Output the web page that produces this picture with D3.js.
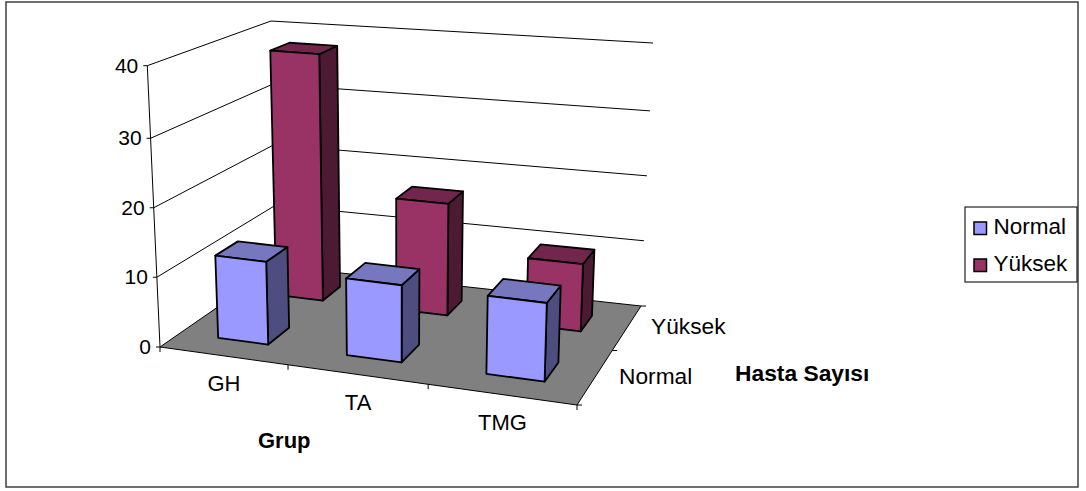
<!DOCTYPE html>
<html>
<head>
<meta charset="utf-8">
<style>
  html, body { margin: 0; padding: 0; background: #fff; }
  svg { display: block; }
  text { font-family: "Liberation Sans", Arial, sans-serif; fill: #000; }
</style>
<script src="https://cdn.jsdelivr.net/npm/d3@7"></script>
</head>
<body>
<svg id="chart" width="1086" height="491"></svg>
<script>
// Patient counts per group and level
const categories = ["GH", "TA", "TMG"];
const seriesNames = ["Normal", "Yüksek"];
const normalValues = [12, 11, 11];
const yuksekValues = [38, 17, 10];
const valueTicks = [0, 10, 20, 30, 40];
const categoryTitle = "Grup";
const seriesTitle = "Hasta Sayısı";

// Face colours per series: front, top, side
const seriesColors = [
  { front: "#9999FF", top: "#7777BF", side: "#4D4D80" },
  { front: "#993366", top: "#73264D", side: "#4D1A33" }
];

// Screen position of the eight corners of the plot box (floor, then ceiling)
const box = {
  floor: { fl: [160, 347], fr: [577, 405], br: [641, 306], bl: [277, 266] },
  top:   { fl: [147.3, 65.7], fr: [587, 109], br: [653, 43], bl: [271, 21] }
};

// Axis scales into the unit box; the piecewise ranges carry the foreshortening
const xScale = d3.scaleLinear().domain([0, 1, 2, 3]).range([0, 0.307, 0.643, 1]);
const depthScale = d3.scaleLinear().domain([0, 1, 2]).range([0, 0.55, 1]);
const valueScale = d3.scaleLinear().domain(valueTicks).range([0, 0.248, 0.495, 0.742, 1]);

const lerp = (a, b, t) => [a[0] + (b[0] - a[0]) * t, a[1] + (b[1] - a[1]) * t];
const plane = (q, u, d) => lerp(lerp(q.fl, q.fr, u), lerp(q.bl, q.br, u), d);
// Trilinear projection from data coordinates to the page
const project = (x, depth, value) =>
  lerp(plane(box.floor, xScale(x), depthScale(depth)),
       plane(box.top, xScale(x), depthScale(depth)),
       valueScale(value));

const svg = d3.select("#chart");
const polyPath = d3.line().curve(d3.curveLinearClosed);
const linePath = d3.line();

// Outer chart frame
svg.append("rect")
  .attr("x", 6).attr("y", 2).attr("width", 1072).attr("height", 485)
  .attr("fill", "#fff").attr("stroke", "#404040").attr("stroke-width", 1.5);

// Gridlines along the side and back walls
const grid = svg.append("g").attr("fill", "none").attr("stroke", "#000").attr("stroke-width", 1);
valueTicks.filter(v => v > 0).forEach(v => {
  grid.append("path").attr("d", linePath([project(0, 0, v), project(0, 2, v), project(3, 2, v)]));
});
grid.append("path").attr("d", linePath([project(0, 0, 0), project(0, 0, 40)]));

// Floor
svg.append("path")
  .attr("d", polyPath([project(0, 0, 0), project(3, 0, 0), project(3, 2, 0), project(0, 2, 0)]))
  .attr("fill", "#808080").attr("stroke", "#000").attr("stroke-width", 1);

// Tick marks on the three axes
const ticks = svg.append("g").attr("fill", "none").attr("stroke", "#000").attr("stroke-width", 1);
valueTicks.forEach(v => {
  const p = project(0, 0, v);
  ticks.append("path").attr("d", linePath([[p[0] - 4, p[1]], p]));
});
d3.range(0, 4).forEach(i => {
  const p = project(i, 0, 0);
  ticks.append("path").attr("d", linePath([p, [p[0], p[1] + 5]]));
});
d3.range(0, 3).forEach(j => {
  const p = project(3, j, 0);
  ticks.append("path").attr("d", linePath([p, [p[0] + 5, p[1]]]));
});

// Bars, back row first so the front row overlaps it
const rows = [
  { index: 1, values: yuksekValues },
  { index: 0, values: normalValues }
];
const barGroup = svg.append("g").attr("stroke", "#000").attr("stroke-width", 1.8).attr("stroke-linejoin", "round");
rows.forEach(row => {
  const color = seriesColors[row.index];
  row.values.forEach((value, i) => {
    const x0 = i + 0.3, x1 = i + 0.7;
    const d0 = row.index + 0.32, d1 = row.index + 0.68;
    barGroup.append("path").attr("fill", color.side).attr("d", polyPath([
      project(x1, d0, 0), project(x1, d1, 0), project(x1, d1, value), project(x1, d0, value)
    ]));
    barGroup.append("path").attr("fill", color.top).attr("d", polyPath([
      project(x0, d0, value), project(x1, d0, value), project(x1, d1, value), project(x0, d1, value)
    ]));
    barGroup.append("path").attr("fill", color.front).attr("d", polyPath([
      project(x0, d0, 0), project(x1, d0, 0), project(x1, d0, value), project(x0, d0, value)
    ]));
  });
});

// Axis labels
valueTicks.forEach(v => {
  const p = project(0, 0, v);
  svg.append("text").attr("x", p[0] - 9).attr("y", p[1] + 7)
    .attr("text-anchor", "end").attr("font-size", 21).text(v);
});
categories.forEach((c, i) => {
  const p = project(i + 0.5, 0, 0);
  svg.append("text").attr("x", p[0]).attr("y", p[1] + 35)
    .attr("text-anchor", "middle").attr("font-size", 22).text(c);
});
seriesNames.forEach((s, j) => {
  const p = project(3, j + 0.5, 0);
  svg.append("text").attr("x", p[0] + 24.5).attr("y", p[1] + 6)
    .attr("font-size", 22.7).text(s);
});

// Axis titles
svg.append("text").attr("x", 258).attr("y", 448)
  .attr("font-size", 22).attr("font-weight", "bold").text(categoryTitle);
svg.append("text").attr("x", 735).attr("y", 381)
  .attr("font-size", 22.8).attr("font-weight", "bold").text(seriesTitle);

// Legend
const legend = svg.append("g");
legend.append("rect").attr("x", 965).attr("y", 207).attr("width", 112).attr("height", 75)
  .attr("fill", "#fff").attr("stroke", "#202020").attr("stroke-width", 1.2);
seriesNames.forEach((s, j) => {
  const cy = 228 + j * 37;
  legend.append("rect").attr("x", 974).attr("y", cy - 6).attr("width", 12.5).attr("height", 12.5)
    .attr("fill", seriesColors[j].front).attr("stroke", "#000").attr("stroke-width", 1.5);
  legend.append("text").attr("x", 993.5).attr("y", cy + 5.5).attr("font-size", 22.5).text(s);
});
</script>
</body>
</html>
